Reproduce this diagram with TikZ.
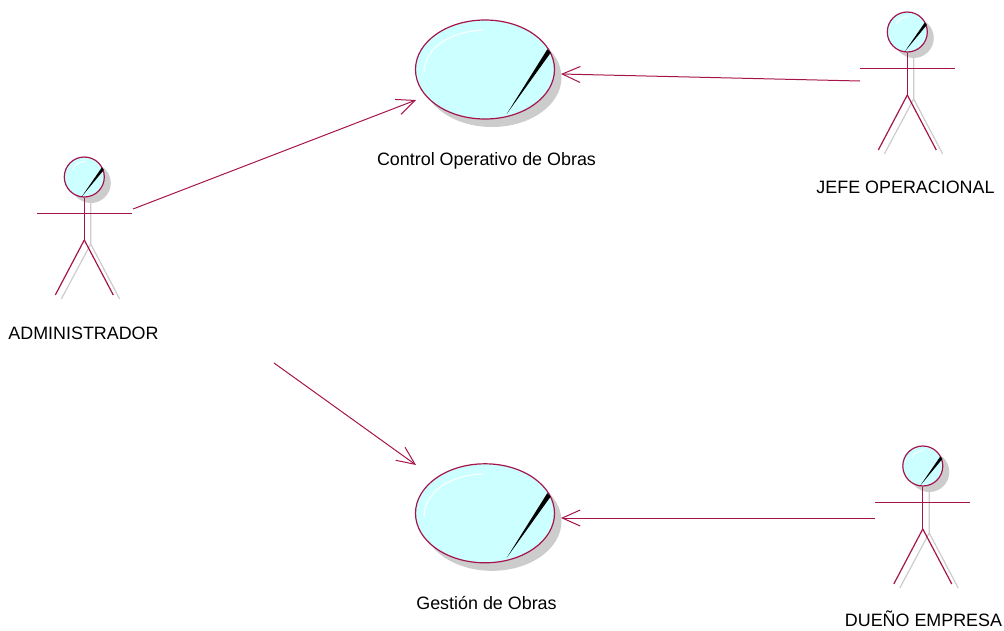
\documentclass[tikz,border=0pt]{standalone}
\usepackage{fontspec}
\setmainfont{Liberation Sans}
\usetikzlibrary{arrows.meta,shapes.geometric}
\definecolor{rose}{HTML}{A5154C}
\definecolor{ucfill}{HTML}{CCFFFF}
\definecolor{shadowgrey}{HTML}{CCCCCC}
\tikzset{
  lbl/.style={font=\fontsize{17.9}{20}\selectfont,text=black,inner sep=0pt,anchor=center},
  usecase/.style={ellipse,draw=rose,fill=ucfill,line width=1.2pt,minimum width=139pt,minimum height=99pt,inner sep=0pt},
  actorhead/.style={circle,draw=rose,fill=ucfill,line width=1.2pt,minimum size=40pt,inner sep=0pt},
  limb/.style={draw=rose,line width=1.2pt},
  shadelimb/.style={draw=shadowgrey,line width=1.2pt},
  conn/.style={draw=rose,line width=1pt,-{Straight Barb[length=18pt,width=16pt,line width=1pt]}},
}
\newcommand{\drawusecase}[3]{% name, x, y
  \fill[shadowgrey] (#2+7,#3+8) ellipse [x radius=69.5,y radius=49.5];
  \node[usecase] (#1) at (#2,#3) {};
  \draw[white,line width=1pt] (#2-61,#3+2.5) .. controls (#2-60,#3-22) and (#2-35,#3-38) .. (#2-2,#3-39.5);
  \fill[black] (#2+62.3,#3-20.2) -- (#2+65.7,#3-16.8) -- (#2+21.7,#3+44.5) -- cycle;
}
\newcommand{\drawactor}[3]{% name, head x, head y
  \fill[shadowgrey] (#2+6.5,#3+6) circle [radius=20];
  \draw[shadelimb] (#2+6.4,#3+21) -- (#2+6.4,#3+67) -- (#2-23,#3+122);
  \draw[shadelimb] (#2+6.4,#3+67) -- (#2+35.4,#3+122);
  \node[actorhead] (#1) at (#2,#3) {};
  \draw[white,line width=.9pt] (#2-11,#3-8) .. controls (#2-10,#3-12) and (#2-5,#3-15) .. (#2+1,#3-15.5);
  \fill[black] (#2+17.5,#3-9.5) -- (#2+19.5,#3-7) -- (#2-2.5,#3+19.5) -- cycle;
  \draw[limb] (#1.south) -- (#2,#3+63) coordinate (#1hip);
  \draw[limb] (#1hip) -- (#2-29,#3+118);
  \draw[limb] (#1hip) -- (#2+29,#3+118);
  \draw[limb] (#2-47.5,#3+36.5) -- (#2+47.5,#3+36.5);
}
\begin{document}
\begin{tikzpicture}[x=1pt,y=-1pt]
\useasboundingbox (0,0) rectangle (1004,630);
\drawusecase{ucControl}{485}{69.5}
\drawusecase{ucGestion}{485}{513.3}
\drawactor{admin}{84.3}{177}
\drawactor{jefe}{907.3}{32}
\drawactor{dueno}{922.8}{466}
\node[lbl] (lControl) at (486.5,161) {Control Operativo de Obras};
\node[lbl] (lGestion) at (486.5,603) {Gestión de Obras};
\node[lbl] (lAdmin) at (83.5,333) {ADMINISTRADOR};
\node[lbl] (lJefe) at (905.5,187) {JEFE OPERACIONAL};
\node[lbl] (lDueno) at (923.5,618.5) {DUEÑO EMPRESA};
\coordinate (adminA) at (133,209);
\coordinate (adminB) at (274,363);
\coordinate (jefeE) at (860,81);
\coordinate (duenoE) at (875,518);
\coordinate (ucControlL) at (416,100);
\coordinate (ucControlR) at (561,74);
\coordinate (ucGestionL) at (416,465);
\coordinate (ucGestionR) at (561,518);
\draw[conn] (adminA) -- (ucControlL);
\draw[conn] (jefeE) -- (ucControlR);
\draw[conn] (adminB) -- (ucGestionL);
\draw[conn] (duenoE) -- (ucGestionR);
\end{tikzpicture}
\end{document}
